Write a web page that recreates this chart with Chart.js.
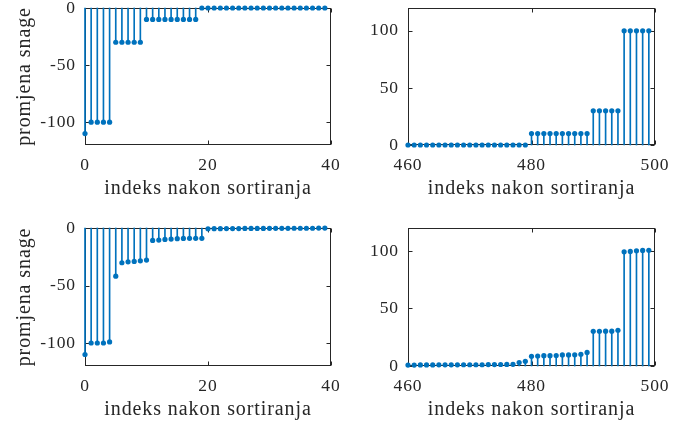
<!DOCTYPE html>
<html><head><meta charset="utf-8">
<script src="https://cdn.jsdelivr.net/npm/chart.js@4.4.1/dist/chart.umd.min.js"></script>
<style>
html,body{margin:0;padding:0;background:#fff;width:689px;height:430px;overflow:hidden;}
canvas{position:absolute;}
</style></head><body>
<canvas id="c1" style="left:0;top:0"></canvas>
<canvas id="c2" style="left:345px;top:0"></canvas>
<canvas id="c3" style="left:0;top:215px"></canvas>
<canvas id="c4" style="left:345px;top:215px"></canvas>
<script>
// ---- data ----
const LEFT_START = 0;     // first sorted index shown on the left panels
const RIGHT_START = 460;  // first sorted index shown on the right panels

const TOP_LEFT_VALUES = [-110, -100, -100, -100, -100, -30, -30, -30, -30, -30,
  -10, -10, -10, -10, -10, -10, -10, -10, -10, 0,
  0, 0, 0, 0, 0, 0, 0, 0, 0, 0,
  0, 0, 0, 0, 0, 0, 0, 0, 0, 0];
const TOP_RIGHT_VALUES = [0, 0, 0, 0, 0, 0, 0, 0, 0, 0,
  0, 0, 0, 0, 0, 0, 0, 0, 0, 0,
  10, 10, 10, 10, 10, 10, 10, 10, 10, 10,
  30, 30, 30, 30, 30, 100, 100, 100, 100, 100];
const BOTTOM_LEFT_VALUES = [-110, -100, -100, -100, -99.1, -41.9, -30.2, -29.4, -29.1, -28.5,
  -27.9, -10.8, -10.5, -9.9, -9.6, -9.3, -9.1, -9.0, -9.0, -9.0,
  -0.7, -0.6, -0.6, -0.5, -0.5, -0.5, -0.4, -0.4, -0.4, -0.4,
  -0.3, -0.3, -0.3, -0.3, -0.2, -0.2, -0.2, -0.2, -0.1, -0.1];
const BOTTOM_RIGHT_VALUES = [0.8, 0.8, 0.9, 0.9, 0.9, 1.0, 1.0, 1.0, 1.0, 1.1,
  1.1, 1.1, 1.1, 1.2, 1.2, 1.3, 1.4, 1.5, 3.0, 4.1,
  8.4, 8.7, 9.0, 9.0, 9.1, 9.6, 9.6, 9.7, 10.2, 11.8,
  30.2, 30.2, 30.3, 30.3, 31.1, 99.3, 99.6, 100.2, 100.5, 100.6];

const LEFT_X_TICKS = [0, 20, 40];
const LEFT_X_LABELS = ['0', '20', '40'];
const RIGHT_X_TICKS = [460, 480, 500];
const RIGHT_X_LABELS = ['460', '480', '500'];
const LEFT_Y_TICKS = [-100, -50, 0];
const LEFT_Y_LABELS = ['-100', '-50', '0'];
const RIGHT_Y_TICKS = [0, 50, 100];
const RIGHT_Y_LABELS = ['0', '50', '100'];

const X_TITLE = 'indeks nakon sortiranja';
const Y_TITLE = 'promjena snage';

// ---- styling ----
const BLUE = '#0072BD';
const INK = '#262626';
const FONT = 'Liberation Serif';

const boxPlugin = {
  id: 'matlabBox',
  beforeDraw(chart) { chart.ctx.letterSpacing = '0.9px'; },
  beforeDatasetsDraw(chart) {
    const {ctx, chartArea: a, scales: {x, y}} = chart;
    ctx.save();
    ctx.strokeStyle = INK;
    ctx.lineWidth = 1;
    const L = Math.round(a.left) + 0.5, R = Math.round(a.right) - 0.5;
    const T = Math.round(a.top) + 0.5, B = Math.round(a.bottom) - 0.5;
    ctx.strokeRect(L, T, R - L, B - T);
    ctx.beginPath();
    const tl = 4;
    x.ticks.forEach(t => {
      const px = Math.round(x.getPixelForValue(t.value)) + 0.5;
      ctx.moveTo(px, B); ctx.lineTo(px, B - tl);
      ctx.moveTo(px, T); ctx.lineTo(px, T + tl);
    });
    y.ticks.forEach(t => {
      const py = Math.round(y.getPixelForValue(t.value)) + 0.5;
      ctx.moveTo(L, py); ctx.lineTo(L + tl, py);
      ctx.moveTo(R, py); ctx.lineTo(R - tl, py);
    });
    ctx.stroke();
    ctx.restore();
  }
};

function makeChart(id, W, H, values, start, xr, xTicks, xLabels, yr, yTicks, yLabels, yTitle, box) {
  const cv = document.getElementById(id);
  cv.width = W; cv.height = H;
  cv.style.width = W + 'px'; cv.style.height = H + 'px';
  const pts = values.map((v, i) => ({x: start + i, y: v}));
  const xAxisH = box.titleBottom - box.bottom;
  return new Chart(cv, {
    type: 'bar',
    data: {
      datasets: [
        {type: 'scatter', data: pts, pointRadius: 2.6, pointHoverRadius: 2.6,
         pointBackgroundColor: BLUE, pointBorderWidth: 0, showLine: false, clip: false},
        {type: 'bar', data: pts, backgroundColor: BLUE, barThickness: 1, borderWidth: 0, clip: false}
      ]
    },
    options: {
      responsive: false,
      animation: false,
      devicePixelRatio: 1,
      layout: {autoPadding: false, padding: {left: 0, top: box.top, right: W - box.right, bottom: H - box.titleBottom}},
      plugins: {legend: {display: false}, tooltip: {enabled: false}},
      scales: {
        x: {
          type: 'linear', position: 'bottom', min: xr[0], max: xr[1], offset: false,
          grid: {display: false, drawTicks: false, offset: false}, border: {display: false},
          afterBuildTicks: s => { s.ticks = xTicks.map(v => ({value: v})); },
          afterFit: s => { s.height = xAxisH; s.paddingLeft = 0; s.paddingRight = 0; s.paddingTop = 0; s.paddingBottom = 0; },
          ticks: {autoSkip: false, maxRotation: 0, padding: 10, color: INK,
                  font: {family: FONT, size: 17.5}, callback: (v, i) => xLabels[i]},
          title: {display: true, text: X_TITLE, color: INK, padding: 0,
                  font: {family: FONT, size: 20}}
        },
        y: {
          type: 'linear', position: 'left', min: yr[0], max: yr[1],
          grid: {display: false, drawTicks: false}, border: {display: false},
          afterBuildTicks: s => { s.ticks = yTicks.map(v => ({value: v})); },
          afterFit: s => { s.width = box.left; s.paddingLeft = 0; s.paddingRight = 0; s.paddingTop = 0; s.paddingBottom = 0; },
          ticks: {autoSkip: false, padding: 9, color: INK,
                  font: {family: FONT, size: 17.5}, callback: (v, i) => yLabels[i]},
          title: {display: !!yTitle, text: yTitle || '', color: INK, padding: {top: 13, bottom: 0},
                  font: {family: FONT, size: 20}}
        }
      }
    },
    plugins: [boxPlugin]
  });
}

makeChart('c1', 345, 215, TOP_LEFT_VALUES, LEFT_START, [0, 40], LEFT_X_TICKS, LEFT_X_LABELS,
  [-120, 0], LEFT_Y_TICKS, LEFT_Y_LABELS, Y_TITLE, {left: 85, right: 331, top: 8, bottom: 145, titleBottom: 201});
makeChart('c2', 344, 215, TOP_RIGHT_VALUES, RIGHT_START, [460, 500], RIGHT_X_TICKS, RIGHT_X_LABELS,
  [0, 120], RIGHT_Y_TICKS, RIGHT_Y_LABELS, null, {left: 63, right: 310, top: 8, bottom: 145, titleBottom: 201});
makeChart('c3', 345, 215, BOTTOM_LEFT_VALUES, LEFT_START, [0, 40], LEFT_X_TICKS, LEFT_X_LABELS,
  [-120, 0], LEFT_Y_TICKS, LEFT_Y_LABELS, Y_TITLE, {left: 85, right: 331, top: 13, bottom: 151, titleBottom: 207});
makeChart('c4', 344, 215, BOTTOM_RIGHT_VALUES, RIGHT_START, [460, 500], RIGHT_X_TICKS, RIGHT_X_LABELS,
  [0, 120], RIGHT_Y_TICKS, RIGHT_Y_LABELS, null, {left: 63, right: 310, top: 13, bottom: 151, titleBottom: 207});
</script>
</body></html>
